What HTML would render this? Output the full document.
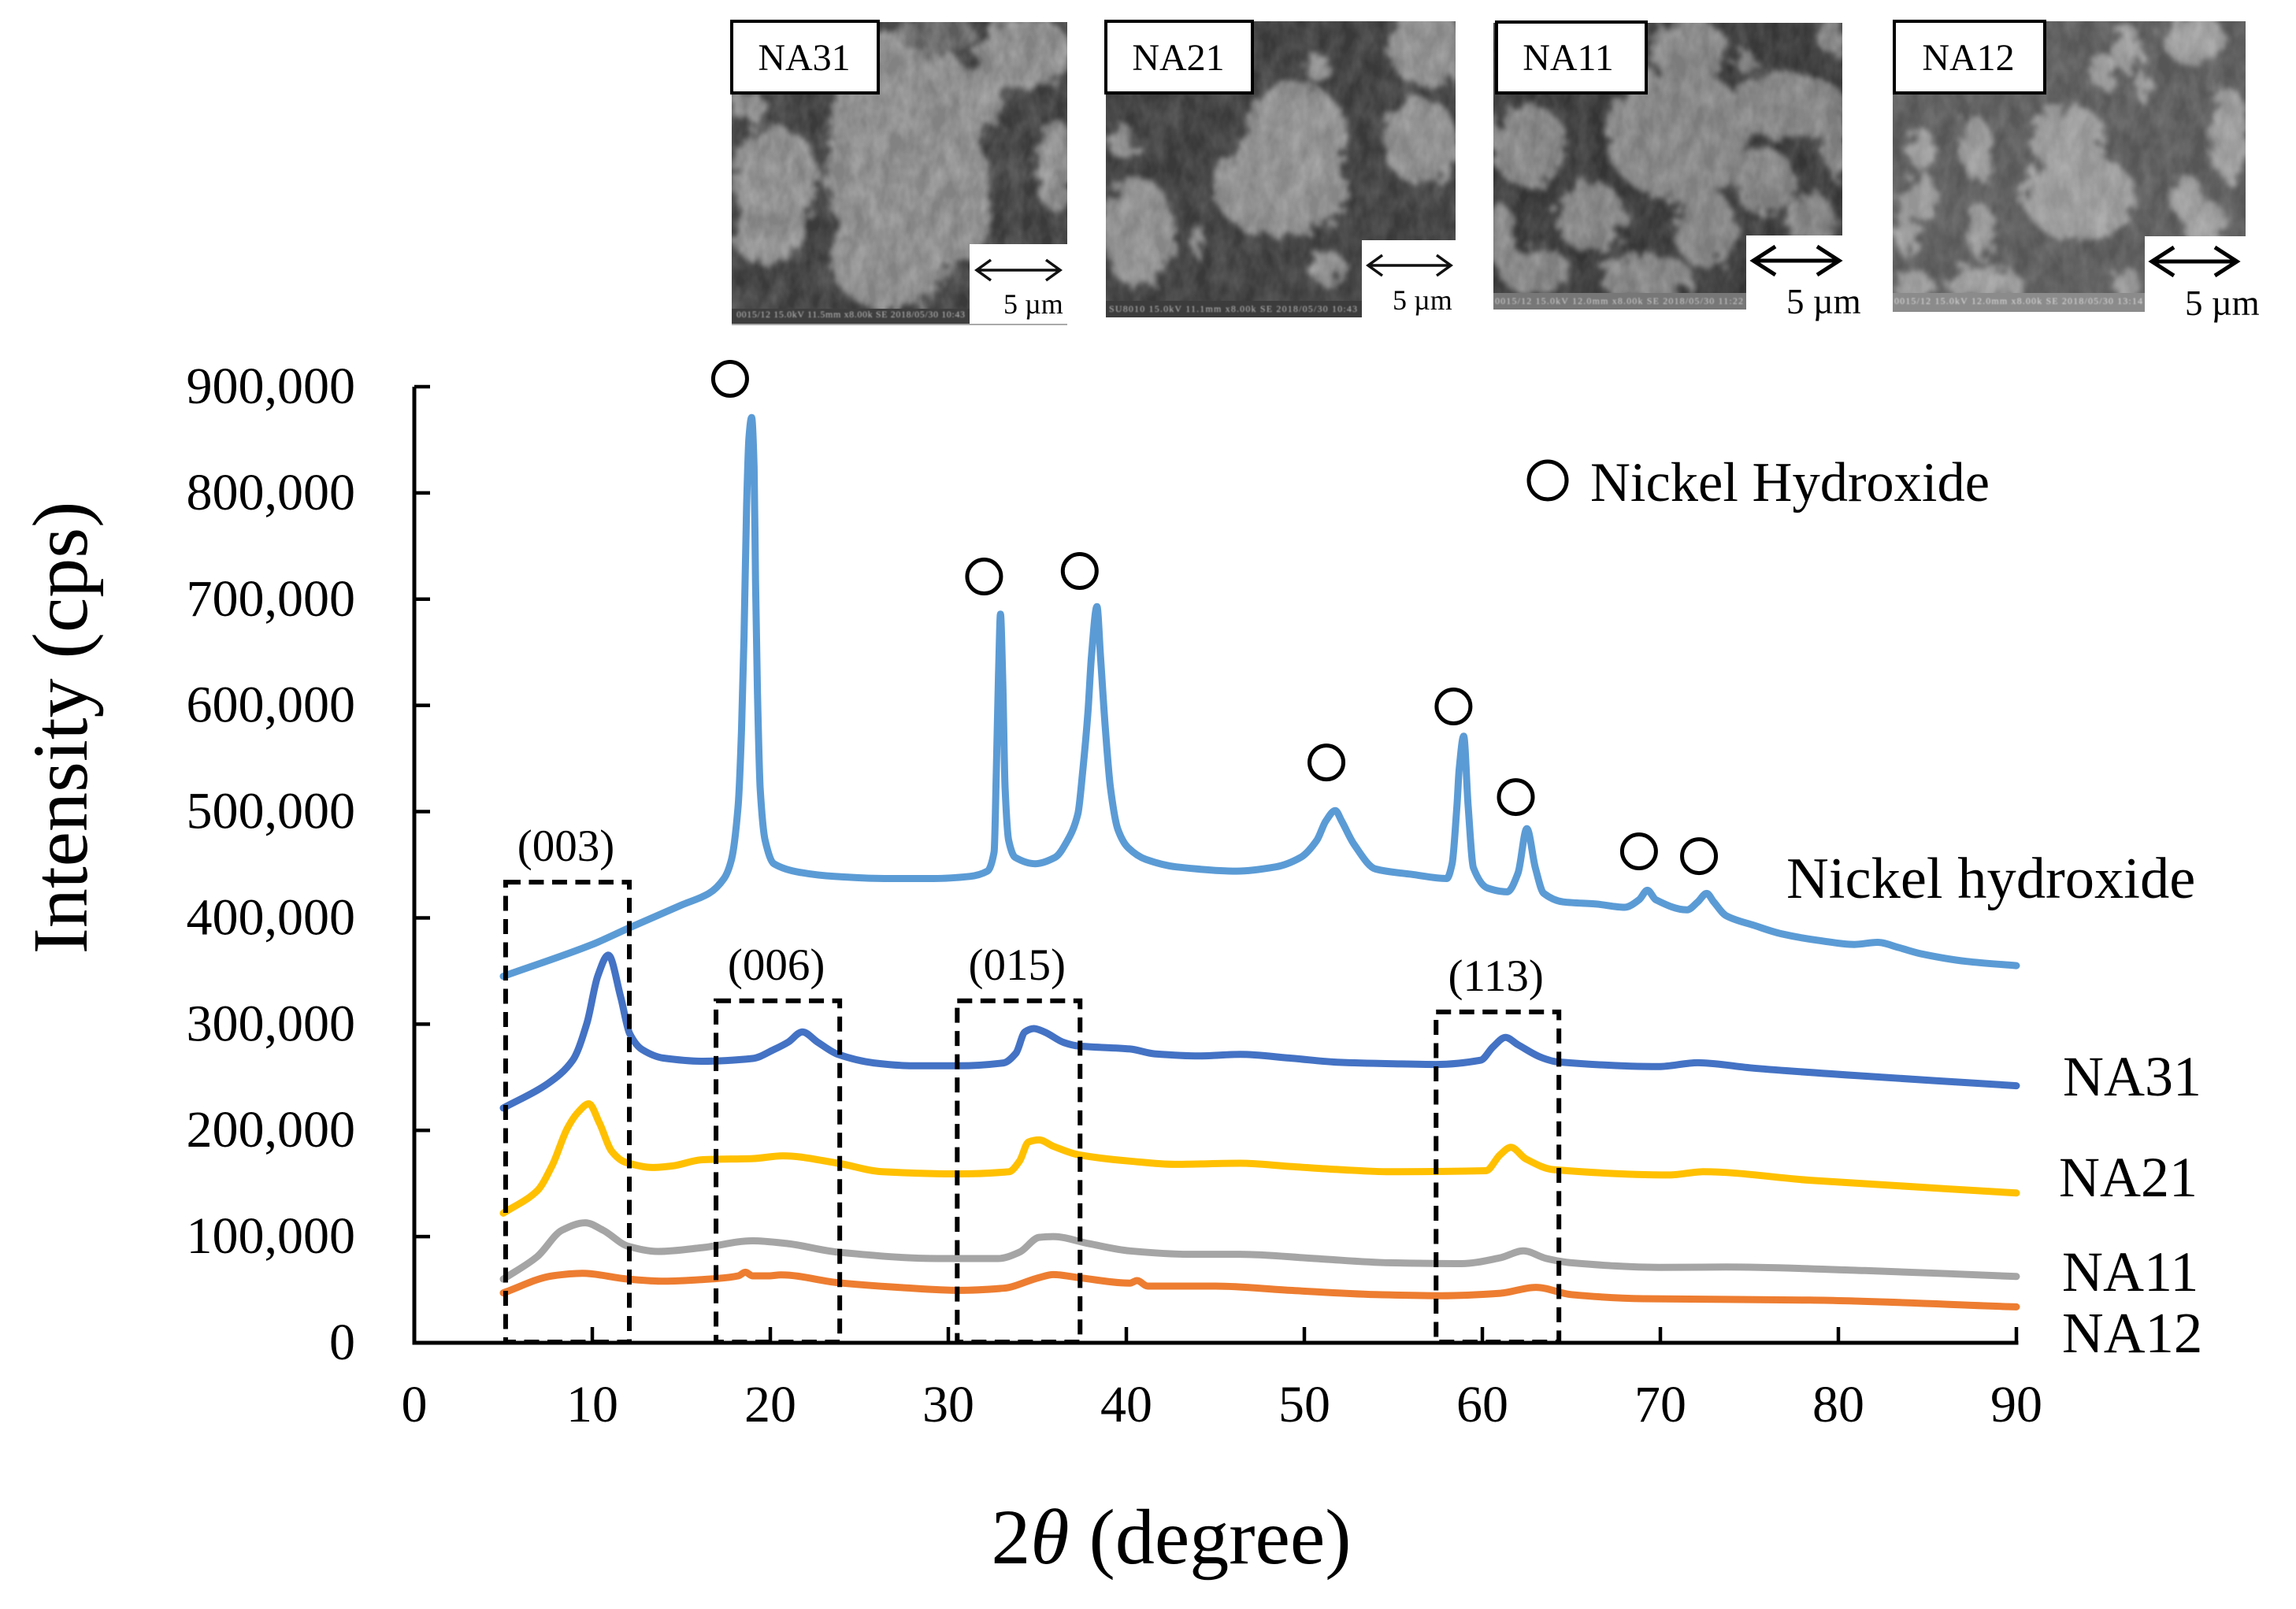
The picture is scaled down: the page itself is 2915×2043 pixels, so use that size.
<!DOCTYPE html>
<html lang="en">
<head>
<meta charset="utf-8">
<title>XRD patterns of NA samples and nickel hydroxide</title>
<style>
html,body{margin:0;padding:0;background:#fff;}
svg{display:block;}
text{font-family:"Liberation Serif","DejaVu Serif",serif;fill:#000;}
</style>
</head>
<body>
<svg id="chart" xmlns="http://www.w3.org/2000/svg" width="2915" height="2043" viewBox="0 0 2915 2043">
<defs>
<filter id="rough" x="-20%" y="-20%" width="140%" height="140%">
<feTurbulence type="fractalNoise" baseFrequency="0.07" numOctaves="3" seed="4" result="n"/>
<feDisplacementMap in="SourceGraphic" in2="n" scale="34" result="d"/>
<feGaussianBlur in="d" stdDeviation="3.5"/>
</filter>
<filter id="grain" x="0" y="0" width="100%" height="100%" color-interpolation-filters="sRGB">
<feTurbulence type="fractalNoise" baseFrequency="0.05 0.03" numOctaves="3" seed="9"/>
<feColorMatrix type="matrix" values="1.6 0 0 0 -0.4  1.6 0 0 0 -0.4  1.6 0 0 0 -0.4  0 0 0 0 1"/>
</filter>
<filter id="soft"><feGaussianBlur stdDeviation="0.8"/></filter>
<clipPath id="c1"><rect x="929" y="28" width="426" height="385"/></clipPath>
<clipPath id="c2"><rect x="1404" y="27" width="444" height="376"/></clipPath>
<clipPath id="c3"><rect x="1896" y="29" width="443" height="364"/></clipPath>
<clipPath id="c4"><rect x="2403" y="27" width="448" height="369"/></clipPath>
</defs>

<g>
<rect x="929" y="28" width="426" height="385" fill="#444"/>
<g clip-path="url(#c1)"><g filter="url(#rough)" fill="#989898">
<ellipse cx="1150" cy="200" rx="100" ry="165"/><ellipse cx="1130" cy="330" rx="75" ry="65"/><ellipse cx="1120" cy="90" rx="50" ry="50"/>
<ellipse cx="1300" cy="65" rx="60" ry="45"/><ellipse cx="1245" cy="125" rx="28" ry="40"/><ellipse cx="985" cy="230" rx="55" ry="70"/>
<ellipse cx="975" cy="300" rx="45" ry="35"/><ellipse cx="1340" cy="210" rx="25" ry="60"/><ellipse cx="1215" cy="250" rx="42" ry="90"/>
<ellipse cx="1190" cy="45" rx="50" ry="25" fill="#6c6c6c"/><ellipse cx="950" cy="135" rx="22" ry="20"/>
</g></g>
<rect x="929" y="28" width="426" height="385" filter="url(#grain)" opacity="0.14"/>
<rect x="929" y="392" width="302" height="20" fill="#3e3e3e"/>
<text x="935" y="403" font-size="12" style="fill:#bdbdbd" filter="url(#soft)" textLength="290">0015/12 15.0kV 11.5mm x8.00k SE 2018/05/30 10:43</text>
<rect x="1231" y="310" width="125" height="104" fill="#fff"/>
<rect x="929" y="411" width="426" height="2" fill="#aaa"/>
</g>
<g>
<rect x="1404" y="27" width="444" height="376" fill="#424242"/>
<g clip-path="url(#c2)"><g filter="url(#rough)" fill="#9a9a9a">
<ellipse cx="1645" cy="175" rx="65" ry="70"/><ellipse cx="1625" cy="240" rx="85" ry="60"/><ellipse cx="1810" cy="60" rx="48" ry="50"/>
<ellipse cx="1805" cy="180" rx="48" ry="55"/><ellipse cx="1445" cy="295" rx="45" ry="70"/><ellipse cx="1425" cy="180" rx="15" ry="25"/>
<ellipse cx="1685" cy="340" rx="22" ry="22"/><ellipse cx="1672" cy="85" rx="14" ry="20"/><ellipse cx="1520" cy="305" rx="8" ry="22"/>
</g></g>
<rect x="1404" y="27" width="444" height="376" filter="url(#grain)" opacity="0.12"/>
<rect x="1404" y="382" width="325" height="21" fill="#3c3c3c"/>
<text x="1408" y="396" font-size="12" style="fill:#bdbdbd" filter="url(#soft)" textLength="315">SU8010 15.0kV 11.1mm x8.00k SE 2018/05/30 10:43</text>
<rect x="1729" y="305" width="120" height="99" fill="#fff"/>
</g>
<g>
<rect x="1896" y="29" width="443" height="364" fill="#3c3c3c"/>
<g clip-path="url(#c3)"><g filter="url(#rough)" fill="#8e8e8e">
<ellipse cx="2130" cy="170" rx="90" ry="85"/><ellipse cx="2270" cy="135" rx="75" ry="42"/><ellipse cx="2145" cy="65" rx="50" ry="42"/>
<ellipse cx="2218" cy="80" rx="12" ry="15"/><ellipse cx="2325" cy="45" rx="17" ry="25"/><ellipse cx="1940" cy="185" rx="48" ry="52"/>
<ellipse cx="2020" cy="275" rx="45" ry="45"/><ellipse cx="2240" cy="230" rx="40" ry="42"/><ellipse cx="2300" cy="280" rx="30" ry="35"/>
<ellipse cx="2165" cy="290" rx="40" ry="50"/><ellipse cx="1950" cy="345" rx="45" ry="30"/><ellipse cx="2090" cy="352" rx="60" ry="30"/>
<ellipse cx="1905" cy="300" rx="20" ry="40"/><ellipse cx="2330" cy="190" rx="15" ry="40"/>
</g></g>
<rect x="1896" y="29" width="443" height="364" filter="url(#grain)" opacity="0.12"/>
<rect x="1896" y="372" width="321" height="21" fill="#777"/>
<text x="1898" y="386" font-size="12" style="fill:#cfcfcf" filter="url(#soft)" textLength="315">0015/12 15.0kV 12.0mm x8.00k SE 2018/05/30 11:22</text>
<rect x="2217" y="299" width="123" height="95" fill="#fff"/>
</g>
<g>
<rect x="2403" y="27" width="448" height="369" fill="#616161"/>
<g clip-path="url(#c4)"><g filter="url(#rough)" fill="#a6a6a6">
<ellipse cx="2625" cy="175" rx="48" ry="42"/><ellipse cx="2640" cy="250" rx="72" ry="55"/><ellipse cx="2785" cy="50" rx="40" ry="32"/>
<ellipse cx="2700" cy="60" rx="18" ry="30"/><ellipse cx="2670" cy="90" rx="17" ry="25"/><ellipse cx="2830" cy="170" rx="25" ry="60"/>
<ellipse cx="2775" cy="250" rx="22" ry="28"/><ellipse cx="2440" cy="190" rx="18" ry="25"/><ellipse cx="2510" cy="190" rx="22" ry="40"/>
<ellipse cx="2440" cy="250" rx="22" ry="30"/><ellipse cx="2515" cy="295" rx="18" ry="35"/><ellipse cx="2420" cy="290" rx="14" ry="38"/>
<ellipse cx="2520" cy="360" rx="50" ry="20"/><ellipse cx="2430" cy="362" rx="28" ry="18"/><ellipse cx="2800" cy="285" rx="28" ry="30"/>
<ellipse cx="2720" cy="110" rx="10" ry="20"/><ellipse cx="2700" cy="360" rx="16" ry="22"/>
</g></g>
<rect x="2403" y="27" width="448" height="369" filter="url(#grain)" opacity="0.1"/>
<rect x="2403" y="372" width="320" height="24" fill="#8b8b8b"/>
<text x="2405" y="386" font-size="12" style="fill:#dcdcdc" filter="url(#soft)" textLength="315">0015/12 15.0kV 12.0mm x8.00k SE 2018/05/30 13:14</text>
<rect x="2723" y="300" width="129" height="97" fill="#fff"/>
</g>

<g><rect x="929" y="27" width="186" height="91" fill="#fff" stroke="#000" stroke-width="4"/><text x="1021" y="89" font-size="48" text-anchor="middle">NA31</text></g>
<g><rect x="1404" y="27" width="186" height="91" fill="#fff" stroke="#000" stroke-width="4"/><text x="1496" y="89" font-size="48" text-anchor="middle">NA21</text></g>
<g><rect x="1900" y="28" width="190" height="90" fill="#fff" stroke="#000" stroke-width="4"/><text x="1991" y="89" font-size="48" text-anchor="middle">NA11</text></g>
<g><rect x="2405" y="27" width="191" height="91" fill="#fff" stroke="#000" stroke-width="4"/><text x="2499" y="89" font-size="48" text-anchor="middle">NA12</text></g>

<g fill="none" stroke="#111" stroke-width="3.5">
<path d="M1240 343H1346M1258 330L1240 343L1258 356M1328 330L1346 343L1328 356"/>
<text x="1274" y="398" font-size="36" stroke="none">5 µm</text></g>
<g fill="none" stroke="#111" stroke-width="3.5">
<path d="M1737 337H1842M1755 324L1737 337L1755 350M1824 324L1842 337L1824 350"/>
<text x="1768" y="393" font-size="36" stroke="none">5 µm</text></g>
<g fill="none" stroke="#000" stroke-width="5">
<path d="M2226 331H2335M2254 313L2226 331L2254 349M2307 313L2335 331L2307 349"/>
<text x="2268" y="398" font-size="45" stroke="none">5 µm</text></g>
<g fill="none" stroke="#000" stroke-width="5">
<path d="M2732 332H2840M2760 314L2732 332L2760 350M2812 314L2840 332L2812 350"/>
<text x="2774" y="400" font-size="45" stroke="none">5 µm</text></g>

<g id="series-layer"></g>
<g id="axis-layer"></g>
<g id="box-layer"></g>
<g id="marker-layer"></g>

<text transform="translate(110 924) rotate(-90)" font-size="100" text-anchor="middle">Intensity (cps)</text>
<text x="1487" y="1985" font-size="100" text-anchor="middle">2<tspan font-style="italic">θ</tspan> (degree)</text>

<g>
<circle cx="1965" cy="610" r="24" fill="none" stroke="#000" stroke-width="5"/>
<text x="2019" y="636" font-size="70.5">Nickel Hydroxide</text>
</g>
<text x="2268" y="1140" font-size="74.5">Nickel hydroxide</text>
<text x="2619" y="1391" font-size="72">NA31</text>
<text x="2614" y="1519" font-size="72">NA21</text>
<text x="2618" y="1639" font-size="72">NA11</text>
<text x="2618" y="1717" font-size="73">NA12</text>
</svg>

<script>
// Axis ticks
const xTicks = [0,10,20,30,40,50,60,70,80,90];
const yTicks = [0,100000,200000,300000,400000,500000,600000,700000,800000,900000];
const yTickLabels = ["0","100,000","200,000","300,000","400,000","500,000","600,000","700,000","800,000","900,000"];

// Series values: 2-theta in degrees, intensity in thousands of cps
const niohTheta = [5,10,12,15,16.55,17.4,17.82,18.19,18.38,18.52,18.67,18.8,18.95,19.09,19.17,19.28,19.43,19.71,20.2,21.6,23.6,26.4,29.2,31.2,32.2,32.57,32.7,32.82,32.93,33.05,33.19,33.39,33.75,34.88,36,36.7,37.28,37.56,37.84,38.04,38.35,38.55,38.83,39.11,39.53,40.1,41.1,42.8,46.2,48.4,49.8,50.7,51.2,51.74,52.1,52.8,54,56,58,58.3,58.57,58.7,58.95,59.2,59.5,60.3,61.4,62,62.5,62.98,63.45,64.55,66.4,68,68.8,69.27,69.75,71.5,72.1,72.6,73,73.7,75.25,76.8,79,80.9,82.2,83.4,84.7,87.2,90];
const niohIntensity = [345,375,390,412,423,437,455,505,576,664,788,852,871,824,718,611,522,473,451,443,439,437,437,439,444,462,540,629,686,629,522,473,457,451,457,473,498,540,593,646,693,646,576,522,483,466,455,448,444,448,457,473,491,501,491,469,446,441,437,451,505,540,571,506,447,428,424.5,442,484,447,423,415,413,410,417,426,417,407.5,415,423,415,402,393,385,378.5,375,377,372,366,359,355];

const na31Theta = [5,7.5,8.9,9.7,10.3,10.9,11.6,12.1,12.8,14,16.2,19,20.2,21,21.8,22.66,23.8,25.8,28,30.6,33.1,33.8,34.3,34.8,35.4,36.5,37.3,40.2,41.6,44.1,46.4,49.2,52,54.8,57.4,59.9,60.6,61.3,62,63.3,64.2,69.9,72.1,75.25,81.5,90];
const na31Intensity = [221,244,266,301,345,365,325,291,276,268,265,267.6,276,283,292.6,283,271.5,263.5,260.7,260.7,263.5,272.7,292.6,295.8,292.6,282.6,279.4,276.6,272,270,271.5,268,264,262.7,262,266,278.6,287.4,280.6,268.7,264.5,260,263.6,258.5,251,242];

const na21Theta = [5,6.9,7.76,8.6,9.2,9.8,10.4,11.1,11.85,13.4,14.5,16.2,19,20.7,23.8,26.3,30.6,33.4,34,34.5,35.1,35.9,37.3,40.2,42.7,46.4,49.2,52,54.8,60.2,61,61.6,62.45,64,70.5,72.4,78.4,90];
const na21Intensity = [122,143,167.5,202,217,225,207,180,170,165,166.5,172.4,173.4,176,169,161,159,161,171,189,191,185,177,171,168,169,166,163,161,162,177,184,173,163,158,161,153,141];

const na11Theta = [5,6.9,8.3,9.6,10.6,12,13.7,16.2,19,21,23.8,29.4,32.8,34,35.1,35.9,37.9,40.2,43.5,46.4,50.6,54.8,58.8,61,62.3,63.6,65,69.9,73.7,81.5,90];
const na11Intensity = [60,81,106,113,106,91,86,89.6,96,93.3,85.3,79.3,79.3,85.3,99.3,100,93.3,86.5,83.3,83.3,79.3,75.3,74.5,80,86.5,79.3,75.3,71,71.3,68,62.4];

const na12Theta = [5,7.76,9.45,12,14,17,18.2,18.6,19,19.9,20.6,23.8,27.2,30.6,33.1,35.1,35.9,37.3,40.2,40.6,41.2,45,49.2,54,57.7,61,63,65,69,78.4,90];
const na12Intensity = [47,63,65.4,60,58,60.5,63,66.4,63,63,64,56.6,52.2,49.4,51.4,61.4,64.2,61.4,56.2,58.6,53.4,53.4,49.4,45.4,44.3,46.6,52.2,45.4,41.5,40.2,33.8];

// Dashed (hkl) regions
const regionLabels = ["(003)","(006)","(015)","(113)"];
const regionStart = [5.13,16.95,30.5,57.4];
const regionEnd = [12.08,23.9,37.4,64.3];
const regionTop = [433.6,321.9,321.9,311.5];

// Nickel hydroxide peak markers
const markerTheta = [17.74,32.01,37.38,51.24,58.38,61.88,68.8,72.17];
const markerIntensity = [907.4,721.3,726.5,546.3,599,513.7,462.6,458.1];

const NS = "http://www.w3.org/2000/svg";
const xPix = v => 526 + (v - 0) * (2560 - 526) / 90;
const yPix = k => 1705 - k * (1705 - 491) / 900;
function make(tag, parent, props, txt){
  const e = document.createElementNS(NS, tag);
  for (const k in props) e.setAttribute(k, props[k]);
  if (txt !== undefined) e.textContent = txt;
  parent.appendChild(e);
  return e;
}
// Monotone cubic path through the mapped data points
function monotonePath(xs, ys){
  const n = xs.length, d = [], m = [];
  for (let i = 0; i < n - 1; i++) d[i] = (ys[i+1] - ys[i]) / (xs[i+1] - xs[i]);
  m[0] = d[0]; m[n-1] = d[n-2];
  for (let i = 1; i < n - 1; i++) {
    m[i] = d[i-1] * d[i] <= 0 ? 0 : 2 * d[i-1] * d[i] / (d[i-1] + d[i]);
  }
  let path = "M" + xs[0].toFixed(1) + " " + ys[0].toFixed(1);
  for (let i = 0; i < n - 1; i++) {
    const h = (xs[i+1] - xs[i]) / 3;
    path += "C" + (xs[i]+h).toFixed(1) + " " + (ys[i]+m[i]*h).toFixed(1) + " " + (xs[i+1]-h).toFixed(1) + " " + (ys[i+1]-m[i+1]*h).toFixed(1) + " " + xs[i+1].toFixed(1) + " " + ys[i+1].toFixed(1);
  }
  return path;
}

const seriesLayer = document.getElementById("series-layer");
function drawSeries(name, thetas, vals, color){
  const d = monotonePath(thetas.map(xPix), vals.map(yPix));
  const line = make("path", seriesLayer, {d:d, fill:"none", stroke:color, "stroke-width":9, "stroke-linejoin":"round", "stroke-linecap":"round"});
  
  
}
drawSeries("line-nickel-hydroxide", niohTheta, niohIntensity, "#5b9bd5");
drawSeries("line-na31", na31Theta, na31Intensity, "#4472c4");
drawSeries("line-na21", na21Theta, na21Intensity, "#ffc000");
drawSeries("line-na11", na11Theta, na11Intensity, "#a5a5a5");
drawSeries("line-na12", na12Theta, na12Intensity, "#ed7d31");

const axisLayer = document.getElementById("axis-layer");
const yAxis = make("line", axisLayer, {x1:xPix(0), x2:xPix(0), y1:yPix(900), y2:yPix(0)+2.5, stroke:"#000", "stroke-width":5});


const xAxis = make("line", axisLayer, {x1:xPix(0)-2.5, x2:xPix(90)+2.5, y1:yPix(0), y2:yPix(0), stroke:"#000", "stroke-width":5});



xTicks.forEach(t => {
  if (t > 0) {
    const tick = make("line", axisLayer, {x1:xPix(t), x2:xPix(t), y1:yPix(0), y2:yPix(0)-20, stroke:"#000", "stroke-width":4.5});
    
    
  }
  const lab = make("text", axisLayer, {x:xPix(t), y:1805, "font-size":66, "text-anchor":"middle"}, String(t));
  
  
});
yTicks.forEach((v,i) => {
  const k = v / 1000;
  const tick = make("line", axisLayer, {x1:xPix(0), x2:xPix(0)+20, y1:yPix(k), y2:yPix(k), stroke:"#000", "stroke-width":4.5});
  
  
  const lab = make("text", axisLayer, {x:451, y:yPix(k)+21, "font-size":66, "text-anchor":"end"}, yTickLabels[i]);
  
  
});

const boxLayer = document.getElementById("box-layer");
regionLabels.forEach((label,i) => {
  const x0 = xPix(regionStart[i]), x1 = xPix(regionEnd[i]), y0 = yPix(regionTop[i]), y1 = yPix(0) - 1;
  const box = make("rect", boxLayer, {x:x0, y:y0, width:x1-x0, height:y1-y0, fill:"none", stroke:"#000", "stroke-width":6, "stroke-dasharray":"19 10.5"});
  
  
  const lab = make("text", boxLayer, {x:(x0+x1)/2-2, y:y0-27, "font-size":57, "text-anchor":"middle"}, label);
  
  
});

const markerLayer = document.getElementById("marker-layer");
markerTheta.forEach((t,i) => {
  const c = make("circle", markerLayer, {cx:xPix(t), cy:yPix(markerIntensity[i]), r:21.5, fill:"none", stroke:"#000", "stroke-width":5});
  
  
});
</script>
</body>
</html>
